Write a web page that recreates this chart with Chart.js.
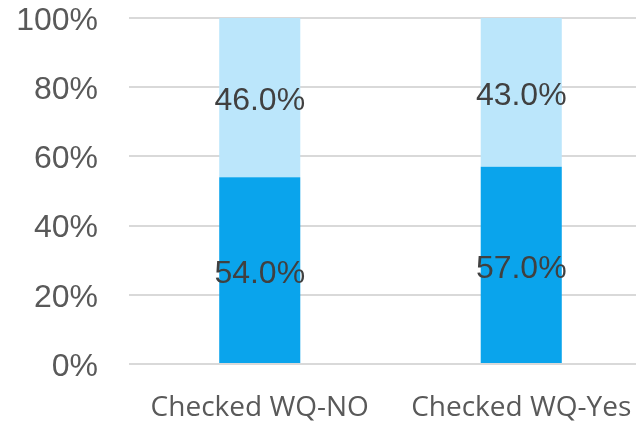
<!DOCTYPE html>
<html>
<head>
<meta charset="utf-8">
<script src="https://cdn.jsdelivr.net/npm/chart.js@4/dist/chart.umd.min.js"></script>
<style>
  html, body { margin: 0; padding: 0; background: #fff; overflow: hidden; width: 636px; height: 422px; }
  #wrap { position: absolute; left: 0; top: 0; width: 652px; height: 422px; }
</style>
</head>
<body>
<div id="wrap"><canvas id="c" width="652" height="422"></canvas></div>
<script>
const categories = ['Checked WQ-NO', 'Checked WQ-Yes'];
const lowerValues = [54.0, 57.0];
const upperValues = [46.0, 43.0];
const yTickLabels = ['0%', '20%', '40%', '60%', '80%', '100%'];

const valueLabels = {
  id: 'valueLabels',
  afterDatasetsDraw(chart) {
    const ctx = chart.ctx;
    ctx.save();
    ctx.font = '32px "Liberation Sans", Arial, sans-serif';
    ctx.fillStyle = '#404040';
    ctx.textAlign = 'center';
    ctx.textBaseline = 'middle';
    chart.data.datasets.forEach((ds, di) => {
      const meta = chart.getDatasetMeta(di);
      meta.data.forEach((bar, i) => {
        const cy = (bar.y + bar.base) / 2 + 4;
        ctx.fillText(ds.data[i].toFixed(1) + '%', bar.x, cy);
      });
    });
    ctx.restore();
  }
};

new Chart(document.getElementById('c'), {
  type: 'bar',
  data: {
    labels: categories,
    datasets: [
      { data: lowerValues, backgroundColor: '#0AA4EC', borderWidth: 0 },
      { data: upperValues, backgroundColor: '#BBE6FB', borderWidth: 0 }
    ]
  },
  options: {
    responsive: false,
    animation: false,
    layout: { padding: { top: 18, right: 0, left: 0, bottom: 0 } },
    plugins: { legend: { display: false }, tooltip: { enabled: false }, title: { display: false } },
    datasets: { bar: { categoryPercentage: 1.0, barPercentage: 0.31 } },
    scales: {
      x: {
        stacked: true,
        grid: { display: false, drawTicks: false },
        border: { display: false },
        ticks: {
          color: '#595959',
          font: { family: '"Open Sans", sans-serif', size: 28 },
          padding: 27,
          maxRotation: 0
        },
        afterFit(scale) { scale.height = 58; scale.paddingLeft = 0; scale.paddingRight = 0; }
      },
      y: {
        stacked: true,
        min: 0,
        max: 100,
        grid: { color: '#d9d9d9', lineWidth: 2, drawTicks: false },
        border: { display: false },
        ticks: {
          stepSize: 20,
          color: '#595959',
          font: { family: '"Liberation Sans", Arial, sans-serif', size: 32 },
          padding: 31,
          labelOffset: 3,
          callback: (v, i) => yTickLabels[i]
        },
        afterFit(scale) { scale.width = 129; scale.paddingTop = 0; scale.paddingBottom = 0; }
      }
    }
  },
  plugins: [valueLabels]
});
</script>
</body>
</html>
